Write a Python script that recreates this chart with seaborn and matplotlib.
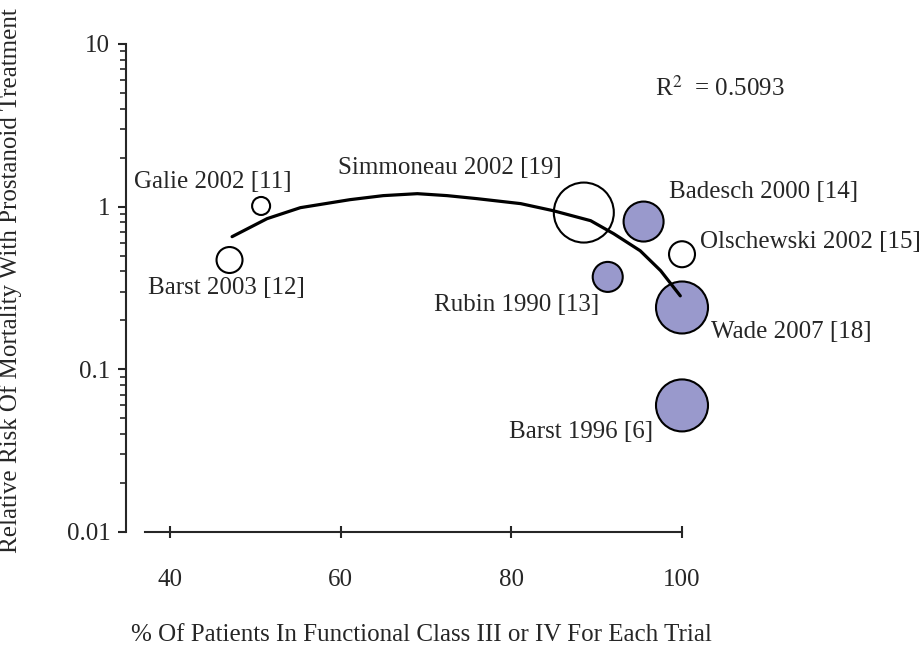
import pandas as pd
import matplotlib
matplotlib.use("Agg")
import matplotlib.pyplot as plt
import seaborn as sns

# trial bubbles
trials = ['Galie 2002 [11]', 'Barst 2003 [12]', 'Simmoneau 2002 [19]', 'Badesch 2000 [14]',
          'Olschewski 2002 [15]', 'Rubin 1990 [13]', 'Wade 2007 [18]', 'Barst 1996 [6]']
pct_class34 = [50.7, 47.0, 88.5, 95.5, 100, 91.3, 100, 100]
rel_risk = [1.01, 0.47, 0.92, 0.81, 0.51, 0.37, 0.24, 0.06]
weight = [168, 350, 1866, 829, 350, 467, 1402, 1402]
route = ['other', 'other', 'other', 'iv', 'other', 'iv', 'iv', 'iv']

# fitted curve, read point by point
curve_x = [47.3, 51.4, 55.3, 61.1, 65.0, 69.0, 72.5, 76.0, 81.1, 84.9, 89.3, 92.0, 95.1, 97.5, 99.8]
curve_y = [0.654, 0.844, 0.986, 1.104, 1.169, 1.202, 1.169, 1.12, 1.044, 0.945, 0.82, 0.682, 0.536, 0.404, 0.283]

x_ticks = [40, 60, 80, 100]
y_ticks = [0.01, 0.1, 1, 10]
y_ticklabels = ['0.01', '0.1', '1', '10']
r2_text = 'R$^2$  = 0.5093'

# label offsets (points) and alignment
label_pos = [(22, 17, 'right'), (-59, -20, 'left'), (-16, 32, 'right'), (18, 21, 'left'),
             (13, 9, 'left'), (-6, -20, 'right'), (21, -18, 'left'), (-21, -19, 'right')]

df = pd.DataFrame({'trial': trials, 'pct': pct_class34, 'rr': rel_risk,
                   'w': weight, 'route': route})
curve = pd.DataFrame({'x': curve_x, 'y': curve_y})

sns.set_style('ticks')
plt.rcParams['font.family'] = ['Liberation Serif', 'DejaVu Serif']
plt.rcParams['mathtext.fontset'] = 'stix'
plt.rcParams['font.size'] = 18

fig = plt.figure(figsize=(9.22, 6.47), dpi=100)
ax = fig.add_axes([145/922, 1-532/647, (682-145)/922, (532-44)/647])

sns.scatterplot(data=df, x='pct', y='rr', hue='route', size='w',
                palette={'iv': '#9999cc', 'other': 'white'},
                sizes=(min(weight), max(weight)), size_norm=(min(weight), max(weight)),
                edgecolor='black', linewidth=1.5, legend=False, clip_on=False,
                zorder=2, ax=ax)
sns.lineplot(data=curve, x='x', y='y', color='black', linewidth=2.3,
             sort=False, estimator=None, zorder=3, ax=ax)

for i, row in df.iterrows():
    dx, dy, ha = label_pos[i]
    ax.annotate(row['trial'], (row['pct'], row['rr']), xytext=(dx, dy),
                textcoords='offset points', ha=ha, va='center', fontsize=18)

ax.set_yscale('log')
ax.set_xlim(37.1, 100)
ax.set_ylim(0.01, 10)
ax.set_xticks(x_ticks)
ax.set_yticks(y_ticks)
ax.set_yticklabels(y_ticklabels)

ax.text(96.8, 5.3, r2_text, ha='left', va='center', fontsize=18)

sns.despine(ax=ax)
ax.spines['left'].set_position(('outward', 14))
for s in ['left', 'bottom']:
    ax.spines[s].set_linewidth(1.5)
ax.tick_params(axis='x', direction='inout', length=9, width=1.5, pad=22, labelsize=18)
ax.tick_params(axis='y', which='major', direction='out', length=6, width=1.5, pad=5, labelsize=18)
ax.tick_params(axis='y', which='minor', direction='out', length=4, width=1.2)

ax.set_xlabel('% Of Patients In Functional Class III or IV For Each Trial', fontsize=18)
ax.set_ylabel('Relative Risk Of Mortality With Prostanoid Treatment', fontsize=18)
ax.xaxis.set_label_coords(0.515, -0.188)
ax.yaxis.set_label_coords(-0.229, 0.515)

fig.savefig('out.png', dpi=100)
